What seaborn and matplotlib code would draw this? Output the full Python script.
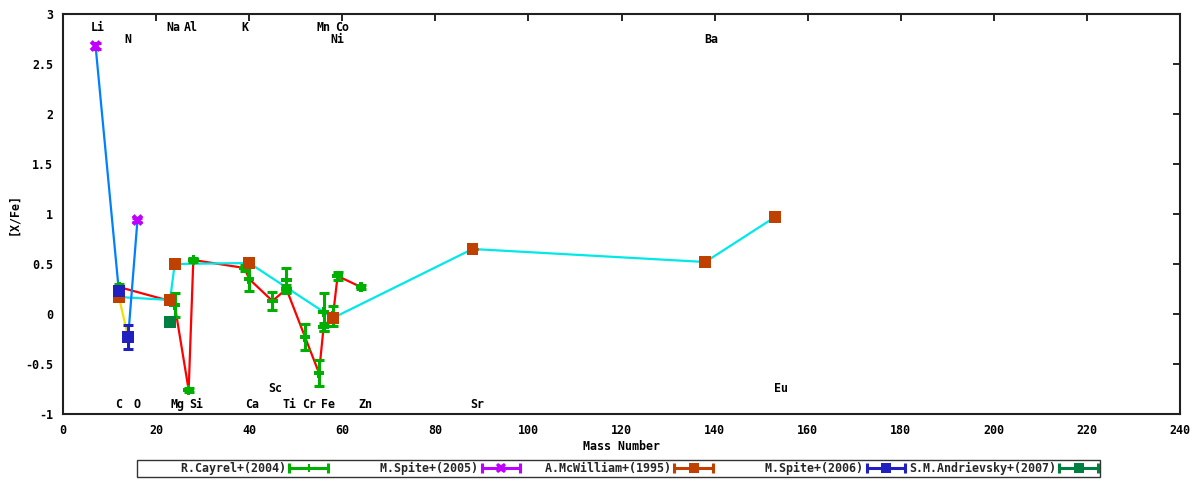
import numpy as np
import pandas as pd
import matplotlib
matplotlib.use('Agg')
import matplotlib.pyplot as plt
import seaborn as sns
from matplotlib.lines import Line2D
from matplotlib.legend_handler import HandlerLine2D, HandlerTuple
from matplotlib.ticker import MultipleLocator, FuncFormatter

# R.Cayrel+(2004)
cayrel_elem = ['C', 'Na', 'Mg', 'Al', 'Si', 'K', 'Ca', 'Sc', 'Ti', 'Ti', 'Cr', 'Mn', 'Fe', 'Fe', 'Ni', 'Co', 'Zn']
cayrel_mass = [12, 23, 24, 27, 28, 39, 40, 45, 48, 48, 52, 55, 56, 56, 58, 59, 64]
cayrel_xfe = [0.27, 0.13, 0.09, -0.76, 0.54, 0.46, 0.35, 0.13, 0.34, 0.25, -0.23, -0.59, 0.02, -0.13, -0.02, 0.38, 0.27]
cayrel_err = [0.03, 0.03, 0.12, 0.02, 0.02, 0.03, 0.12, 0.09, 0.12, 0.04, 0.13, 0.13, 0.19, 0.04, 0.10, 0.04, 0.02]
cayrel_on_line = [1, 1, 1, 1, 1, 1, 1, 1, 0, 1, 1, 1, 0, 1, 1, 1, 1]

# M.Spite+(2005)
spite05_elem = ['Li', 'O']
spite05_mass = [7, 16]
spite05_xfe = [2.68, 0.94]
spite05_err = [0.03, 0.02]

# A.McWilliam+(1995)
mcw_elem = ['C', 'Na', 'Mg', 'Ca', 'Ni', 'Sr', 'Ba', 'Eu']
mcw_mass = [12, 23, 24, 40, 58, 88, 138, 153]
mcw_xfe = [0.17, 0.14, 0.50, 0.51, -0.04, 0.65, 0.52, 0.97]
mcw_err = [0, 0, 0, 0, 0, 0, 0, 0]

# M.Spite+(2006)
spite06_elem = ['C', 'N']
spite06_mass = [12, 14]
spite06_xfe = [0.23, -0.23]
spite06_err = [0.03, 0.12]

# S.M.Andrievsky+(2007)
andr_elem = ['Na']
andr_mass = [23]
andr_xfe = [-0.08]
andr_err = [0.0]

# element names written on the plot
label_elem = ['Li', 'Na', 'Al', 'K', 'Mn', 'Co', 'N', 'Ni', 'Ba',
              'C', 'O', 'Mg', 'Si', 'Ca', 'Ti', 'Cr', 'Fe', 'Zn', 'Sr', 'Sc', 'Eu']
label_x = [7.5, 23.7, 27.5, 39.0, 56.0, 59.9, 14.0, 59.0, 139.3,
           12.0, 15.9, 24.5, 28.6, 40.7, 48.7, 52.8, 56.9, 64.9, 89.0, 45.7, 154.2]
label_y = [2.88, 2.88, 2.88, 2.88, 2.88, 2.88, 2.76, 2.76, 2.76,
           -0.89, -0.89, -0.89, -0.89, -0.89, -0.89, -0.89, -0.89, -0.89, -0.89, -0.73, -0.73]

GREEN = '#00b000'
MAGENTA = '#c000ff'
BROWN = '#c04000'
BLUE = '#2020c0'
DKGREEN = '#008040'

sns.set_theme(style='white')
plt.rcParams['font.family'] = ['DejaVu Sans Mono', 'DejaVu Sans']
plt.rcParams['font.weight'] = 'bold'
plt.rcParams['axes.unicode_minus'] = False
FS = 8.4

fig, ax = plt.subplots(figsize=(12, 4.8), dpi=100)
fig.subplots_adjust(left=63 / 1200, right=1180 / 1200, top=1 - 14 / 480, bottom=1 - 414 / 480)

cay = pd.DataFrame({'elem': cayrel_elem, 'mass': cayrel_mass, 'xfe': cayrel_xfe,
                    'err': cayrel_err, 'line': cayrel_on_line})
mcw = pd.DataFrame({'elem': mcw_elem, 'mass': mcw_mass, 'xfe': mcw_xfe, 'err': mcw_err})
s05 = pd.DataFrame({'elem': spite05_elem, 'mass': spite05_mass, 'xfe': spite05_xfe, 'err': spite05_err})
s06 = pd.DataFrame({'elem': spite06_elem, 'mass': spite06_mass, 'xfe': spite06_xfe, 'err': spite06_err})
adr = pd.DataFrame({'elem': andr_elem, 'mass': andr_mass, 'xfe': andr_xfe, 'err': andr_err})

# connecting lines
red_line = cay[cay['line'] == 1].sort_values('mass')
sns.lineplot(data=red_line, x='mass', y='xfe', sort=False, estimator=None,
             color='#ff0000', lw=1.6, ax=ax, zorder=2)
sns.lineplot(data=mcw, x='mass', y='xfe', sort=False, estimator=None,
             color='#00e8e8', lw=1.6, ax=ax, zorder=2)
li = s05[s05.elem == 'Li']; o = s05[s05.elem == 'O']
c06 = s06[s06.elem == 'C']; n06 = s06[s06.elem == 'N']
blue_line = pd.concat([li.assign(seg=0), c06.assign(seg=0), n06.assign(seg=1), o.assign(seg=1)])
sns.lineplot(data=blue_line, x='mass', y='xfe', units='seg', sort=False, estimator=None,
             color='#0080ff', lw=1.6, ax=ax, zorder=2)
yellow_line = pd.concat([mcw[mcw.elem == 'C'], n06])
sns.lineplot(data=yellow_line, x='mass', y='xfe', sort=False, estimator=None,
             color='#f0e000', lw=1.6, ax=ax, zorder=1.9)

# points with error bars
series = [
    ('R.Cayrel+(2004)', cay, GREEN, 'P', 7.5, 3),
    ('M.Spite+(2005)', s05, MAGENTA, 'X', 8.5, 3),
    ('A.McWilliam+(1995)', mcw, BROWN, 's', 8.5, 4),
    ('M.Spite+(2006)', s06, BLUE, 's', 8.5, 5),
    ('S.M.Andrievsky+(2007)', adr, DKGREEN, 's', 8.5, 5),
]
for name, df, col, mk, ms, z in series:
    ax.errorbar(df['mass'], df['xfe'], yerr=df['err'], fmt='none', ecolor=col,
                elinewidth=2.2, capsize=3.8, capthick=2.2, zorder=z)
    sns.scatterplot(data=df, x='mass', y='xfe', marker=mk, s=ms ** 2, color=col,
                    edgecolor='none', linewidth=0, ax=ax, zorder=z, legend=False)

for t, x, y in zip(label_elem, label_x, label_y):
    ax.text(x, y, t, ha='center', va='center_baseline', fontsize=FS, fontweight='bold', color='black')

ax.set_xlim(0, 240)
ax.set_ylim(-1, 3)
ax.xaxis.set_major_locator(MultipleLocator(20))
ax.yaxis.set_major_locator(MultipleLocator(0.5))
fmt = FuncFormatter(lambda v, p: f'{v:g}')
ax.xaxis.set_major_formatter(fmt)
ax.yaxis.set_major_formatter(fmt)
ax.tick_params(direction='in', length=5, width=1.2, top=True, right=True,
               labelsize=FS, pad=7, colors='black')
for sp in ax.spines.values():
    sp.set_color('#202020')
    sp.set_linewidth(1.5)
ax.set_xlabel('Mass Number', fontsize=FS, fontweight='bold', labelpad=2, color='black')
ax.set_ylabel('[X/Fe]', fontsize=FS, fontweight='bold', labelpad=4, color='black')
ax.grid(False)

# legend in gnuplot style: text right justified, errorbar sample after it
handles, labels, hmap = [], [], {}
for name, df, col, mk, ms, z in series:
    caps = Line2D([], [], color=col, lw=2.2, marker='|', ms=7, mew=2.2)
    mid = Line2D([], [], color=col, ls='none', marker=mk, ms=ms * 0.85, mew=0)
    hmap[caps] = HandlerLine2D(numpoints=2, marker_pad=0)
    hmap[mid] = HandlerLine2D(numpoints=1)
    handles.append((caps, mid))
    labels.append(name.rjust(21))
hmap[tuple] = HandlerTuple(ndivide=1)
leg = fig.legend(handles, labels, loc='upper left', bbox_to_anchor=(137 / 1200, 1 - 460 / 480),
                 ncol=5, frameon=True, fancybox=False, edgecolor='black', borderpad=0.15,
                 handlelength=3.3, handletextpad=0.3, columnspacing=0.3, borderaxespad=0,
                 markerfirst=False, handler_map=hmap,
                 prop={'family': 'DejaVu Sans Mono', 'weight': 'bold', 'size': FS})
leg.get_frame().set_linewidth(1.0)

plt.savefig('out.png', dpi=100)
plt.close()
